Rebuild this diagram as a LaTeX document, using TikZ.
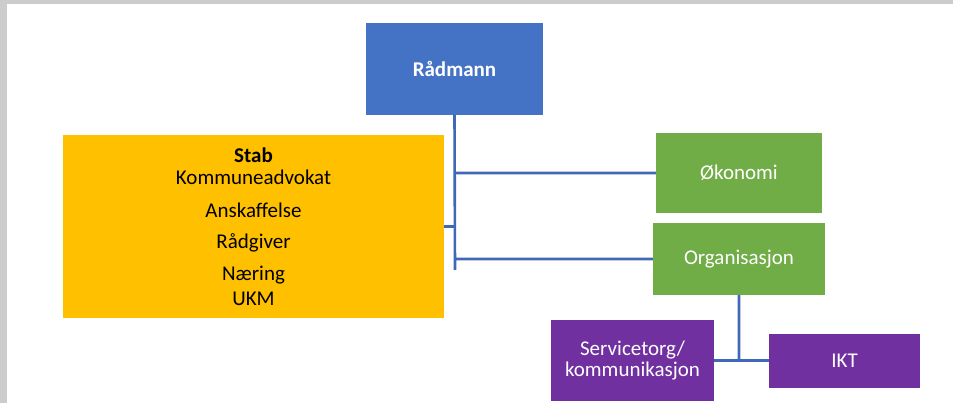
\documentclass[tikz,border=0pt]{standalone}
\usepackage{fontspec}
\setmainfont{Carlito}
\usepackage{tikz}
\usepackage{xcolor}
\usetikzlibrary{
    calc,
    positioning
}
\definecolor{bl}{HTML}{4472C4}
\definecolor{ye}{HTML}{FFC000}
\definecolor{gr}{HTML}{70AD47}
\definecolor{pu}{HTML}{7030A0}
\definecolor{ln}{HTML}{4068B8}
\tikzset{orgbox/.style={inner sep=2pt, rectangle, align=center, font=\fontsize{21}{24}\selectfont}}
\tikzset{orgln/.style={draw=ln, line width=2.6pt}}

\begin{document}
\begin{tikzpicture}[x=1pt, y=-1pt]
    \useasboundingbox (0, 0) rectangle (953, 403);
    \fill[white] (0, 0) rectangle (953, 403);
    \fill[black!20] (0, 0) rectangle (953, 4);
    \fill[black!20] (0, 0) rectangle (7, 403);
    \node[orgbox, fill=bl, text=white, font=\fontsize{21}{24}\selectfont\bfseries,
        minimum width=177pt, minimum height=92pt] (raad) at (454.5, 69) {Rådmann};
    \node[orgbox, fill=ye, text=black, minimum width=381pt, minimum height=183pt] (stab) at (253.5, 226.5)
        {\textbf{Stab}\\[-2pt] Kommuneadvokat\\[9pt] Anskaffelse\\[7pt] Rådgiver\\[8pt] Næring\\[1pt] UKM};
    \node[orgbox, fill=gr, text=white, minimum width=166pt, minimum height=80pt] (oko) at (739, 173) {Økonomi};
    \node[orgbox, fill=gr, text=white, minimum width=172pt, minimum height=72pt] (org) at (739, 259) {Organisasjon};
    \node[orgbox, fill=pu, text=white, minimum width=163pt, minimum height=80pt] (serv) at (632.5, 360.5)
        {Servicetorg/\\[-3pt] kommunikasjon};
    \node[orgbox, fill=pu, text=white, minimum width=151pt, minimum height=54pt] (ikt) at (844.5, 360.5) {IKT};
    \coordinate (trunk) at (455, 270);
    \draw[orgln]
    (raad.south) -- (trunk)
    (stab.east) -- (stab.east -| trunk)
    (oko.west) -- (oko.west -| trunk)
    (org.west) -- (org.west -| trunk)
    (org.south) -- (org.south |- ikt.west)
    (serv.east) -- (ikt.west);
\end{tikzpicture}
\end{document}
